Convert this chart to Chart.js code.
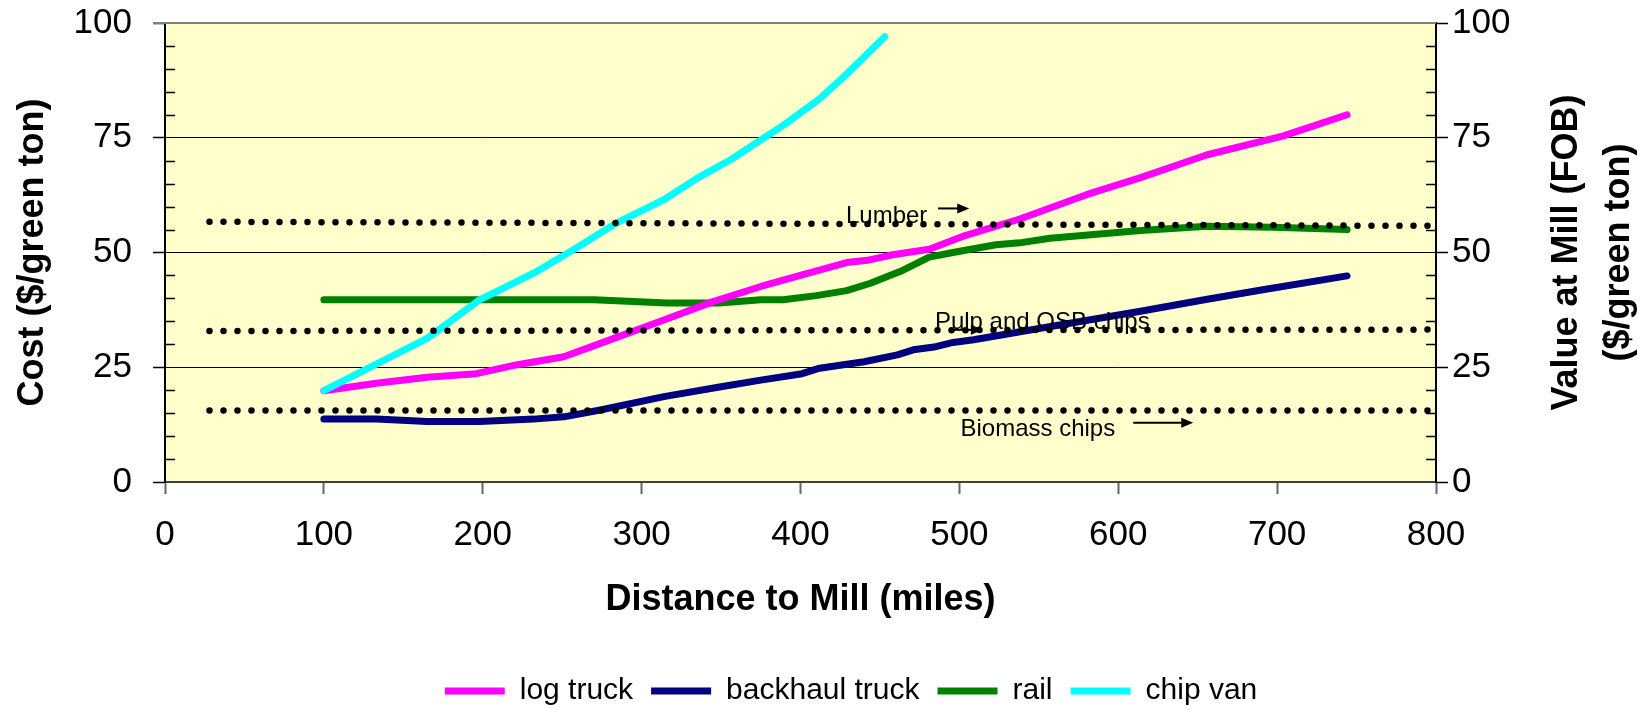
<!DOCTYPE html>
<html lang="en">
  <head>
    <meta charset="UTF-8" />
    <title>Cost vs Distance to Mill</title>
    <script src="https://cdn.jsdelivr.net/npm/chart.js"></script>
    <style>
      body {
        margin: 0;
        background: #fff;
      }
      canvas {
        display: block;
      }
    </style>
  </head>
  <body>
    <canvas id="costChart" width="1650" height="710"></canvas>

    <script>
      // values (miles -> $/green ton)
      const logTruckMiles = [100, 133, 165, 196, 221, 251, 274, 314, 345, 375, 401, 429, 442, 458, 481, 502, 538, 580, 614, 656, 704, 744];
      const logTruckCost = [19.9, 21.5, 22.8, 23.6, 25.5, 27.3, 30.2, 35.3, 39.3, 42.6, 45.1, 47.8, 48.3, 49.5, 50.7, 53.5, 57.3, 62.6, 66.3, 71.3, 75.4, 80.0];

      const backhaulMiles = [100, 133, 165, 198, 232, 251, 274, 314, 349, 375, 401, 412, 440, 461, 471, 484, 496, 509, 551, 614, 656, 691, 744];
      const backhaulCost = [13.7, 13.7, 13.2, 13.2, 13.7, 14.2, 15.7, 18.6, 20.7, 22.2, 23.6, 24.8, 26.2, 27.7, 28.8, 29.4, 30.4, 31.0, 33.5, 37.2, 39.8, 41.9, 44.9];

      const railMiles = [100, 270, 316, 349, 375, 389, 410, 429, 444, 463, 481, 496, 523, 538, 557, 614, 656, 697, 744];
      const railCost = [39.7, 39.7, 39.0, 39.0, 39.7, 39.7, 40.6, 41.7, 43.3, 45.9, 49.0, 50.0, 51.7, 52.1, 53.1, 54.8, 55.7, 55.5, 55.0];

      const chipVanMiles = [100, 165, 198, 232, 257, 284, 314, 335, 356, 390, 412, 427, 453];
      const chipVanCost = [19.9, 31.3, 39.7, 45.5, 50.6, 56.4, 61.5, 66.2, 70.2, 77.9, 83.5, 88.2, 97.0];

      // value at mill reference levels (dotted)
      const levelMiles = [28, 797];
      const lumberValue = [56.7, 55.8];
      const pulpValue = [32.9, 33.2];
      const biomassValue = [15.6, 15.6];

      const xTicks = [0, 100, 200, 300, 400, 500, 600, 700, 800];
      const yTicks = [0, 25, 50, 75, 100];

      const notes = [
        { text: "Lumber", x: 428.6, y: 56.5, arrowFrom: 486.6, arrowTo: 506.2, arrowY: 59.6 },
        { text: "Pulp and OSB chips", x: 484.6, y: 33.4, arrowFrom: 496, arrowTo: 514.8, arrowY: 33.15 },
        { text: "Biomass chips", x: 500.7, y: 10.0, arrowFrom: 609.4, arrowTo: 647.2, arrowY: 12.9 },
      ];

      const family = "Arial, 'Liberation Sans', Helvetica, sans-serif";

      function series(label, miles, cost, color, order) {
        return {
          label: label,
          data: miles.map((m, i) => ({ x: m, y: cost[i] })),
          borderColor: color,
          backgroundColor: color,
          borderWidth: 7,
          borderCapStyle: "round",
          borderJoinStyle: "round",
          pointRadius: 0,
          tension: 0,
          order: order,
          yAxisID: "y",
        };
      }

      function level(label, values) {
        return {
          label: label,
          data: levelMiles.map((m, i) => ({ x: m, y: values[i] })),
          borderColor: "#000",
          backgroundColor: "#000",
          borderWidth: 6.5,
          borderDash: [0, 14],
          borderCapStyle: "round",
          pointRadius: 0,
          tension: 0,
          order: 0,
          yAxisID: "y",
        };
      }

      // keep the value axes from pushing the plot down for their end labels
      function fixSideAxis(width) {
        return (scale) => {
          scale.width = width;
          scale.paddingTop = 0;
          scale.paddingBottom = 0;
        };
      }

      // background, minor ticks, top border, side titles, notes
      const decorations = {
        id: "decorations",
        beforeDraw(chart) {
          const { ctx, chartArea: a } = chart;
          ctx.save();
          ctx.fillStyle = "#ffffcc";
          ctx.fillRect(a.left, a.top, a.right - a.left, a.bottom - a.top);
          ctx.restore();
        },
        afterDatasetsDraw(chart) {
          const { ctx } = chart;
          const xs = chart.scales.x;
          const ys = chart.scales.y;
          ctx.save();
          ctx.fillStyle = "#000";
          ctx.strokeStyle = "#000";
          ctx.font = "24px " + family;
          ctx.textBaseline = "alphabetic";
          ctx.textAlign = "left";
          notes.forEach((n) => {
            ctx.fillText(n.text, xs.getPixelForValue(n.x), ys.getPixelForValue(n.y));
            const x0 = xs.getPixelForValue(n.arrowFrom);
            const x1 = xs.getPixelForValue(n.arrowTo);
            const y = ys.getPixelForValue(n.arrowY);
            ctx.lineWidth = 2;
            ctx.beginPath();
            ctx.moveTo(x0, y);
            ctx.lineTo(x1 - 10, y);
            ctx.stroke();
            ctx.beginPath();
            ctx.moveTo(x1, y);
            ctx.lineTo(x1 - 12, y - 5);
            ctx.lineTo(x1 - 12, y + 5);
            ctx.closePath();
            ctx.fill();
          });
          ctx.restore();
        },
        afterDraw(chart) {
          const { ctx, chartArea: a } = chart;
          const ys = chart.scales.y;
          ctx.save();

          // minor ticks inside the plot
          ctx.strokeStyle = "#000";
          ctx.lineWidth = 1.5;
          for (let v = 5; v < 100; v += 5) {
            if (v % 25 === 0) continue;
            const y = Math.round(ys.getPixelForValue(v)) + 0.5;
            ctx.beginPath();
            ctx.moveTo(a.left, y);
            ctx.lineTo(a.left + 10, y);
            ctx.moveTo(a.right - 10, y);
            ctx.lineTo(a.right, y);
            ctx.stroke();
          }

          // top border
          ctx.strokeStyle = "#808080";
          ctx.lineWidth = 2;
          ctx.beginPath();
          ctx.moveTo(a.left - 12, a.top);
          ctx.lineTo(a.right, a.top);
          ctx.stroke();

          // vertical axis titles
          const midY = (a.top + a.bottom) / 2;
          ctx.fillStyle = "#000";
          ctx.font = "bold 36px " + family;
          ctx.textAlign = "center";
          ctx.textBaseline = "middle";
          [
            ["Cost ($/green ton)", 33],
            ["Value at Mill (FOB)", 1567],
            ["($/green ton)", 1619],
          ].forEach(([t, x]) => {
            ctx.save();
            ctx.translate(x, midY);
            ctx.rotate(-Math.PI / 2);
            ctx.fillText(t, 0, 0);
            ctx.restore();
          });
          ctx.restore();
        },
      };

      new Chart(document.getElementById("costChart"), {
        type: "line",
        data: {
          datasets: [
            series("log truck", logTruckMiles, logTruckCost, "#ff00ff", 2),
            series("backhaul truck", backhaulMiles, backhaulCost, "#000080", 4),
            series("rail", railMiles, railCost, "#008000", 3),
            series("chip van", chipVanMiles, chipVanCost, "#00ffff", 1),
            level("Lumber", lumberValue),
            level("Pulp and OSB chips", pulpValue),
            level("Biomass chips", biomassValue),
          ],
        },
        options: {
          responsive: false,
          animation: false,
          devicePixelRatio: 1,
          layout: { padding: { left: 52, top: 23, right: 0, bottom: -6 } },
          plugins: {
            tooltip: { enabled: false },
            legend: {
              position: "bottom",
              labels: {
                usePointStyle: true,
                pointStyle: "line",
                pointStyleWidth: 60,
                padding: 18,
                color: "#000",
                font: { size: 30, family: family },
                filter: (item) => item.datasetIndex < 4,
                sort: (a, b) => a.datasetIndex - b.datasetIndex,
              },
            },
          },
          scales: {
            x: {
              type: "linear",
              min: 0,
              max: 800,
              afterBuildTicks: (scale) => {
                scale.ticks = xTicks.map((v) => ({ value: v }));
              },
              ticks: { padding: 20, color: "#000", font: { size: 35, family: family } },
              grid: { drawOnChartArea: false, tickLength: 12, tickColor: "#666", tickWidth: 2 },
              border: { color: "#404040", width: 2 },
              title: {
                display: true,
                text: "Distance to Mill (miles)",
                color: "#000",
                font: { size: 36, weight: "bold", family: family },
                padding: { top: 0, bottom: 36 },
              },
              afterFit: (scale) => {
                scale.height = 176;
              },
            },
            y: {
              position: "left",
              min: 0,
              max: 100,
              afterBuildTicks: (scale) => {
                scale.ticks = yTicks.map((v) => ({ value: v }));
              },
              ticks: { padding: 21, color: "#000", font: { size: 35, family: family } },
              grid: {
                color: (c) => (c.tick && c.tick.value === 100 ? "rgba(0,0,0,0)" : "#000"),
                lineWidth: 1,
                tickLength: 12,
                tickColor: "#000",
                tickWidth: 1.5,
              },
              border: { color: "#000", width: 2 },
              afterFit: fixSideAxis(113),
            },
            y2: {
              position: "right",
              min: 0,
              max: 100,
              afterBuildTicks: (scale) => {
                scale.ticks = yTicks.map((v) => ({ value: v }));
              },
              ticks: { padding: 4, color: "#000", font: { size: 35, family: family } },
              grid: { drawOnChartArea: false, tickLength: 12, tickColor: "#000", tickWidth: 1.5 },
              border: { color: "#000", width: 2 },
              afterFit: fixSideAxis(214),
            },
          },
        },
        plugins: [decorations],
      });
    </script>
  </body>
</html>
